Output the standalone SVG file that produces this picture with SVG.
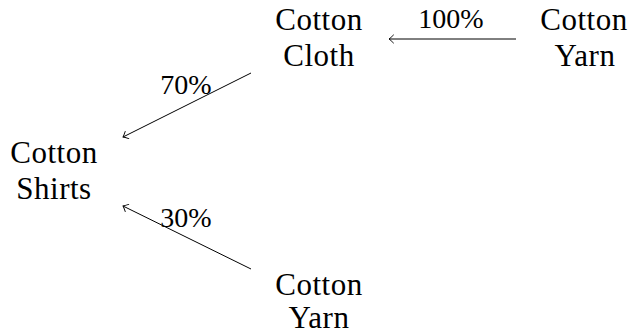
<svg xmlns="http://www.w3.org/2000/svg" width="629" height="332" viewBox="0 0 629 332">
  <defs>
    <style>
      .lbl { font-family: "Liberation Serif", serif; font-size: 31px; letter-spacing: 0.5px; fill: #000; text-anchor: middle; }
      .pct { font-family: "Liberation Serif", serif; font-size: 28px; fill: #000; text-anchor: middle; }
      .edge { stroke: #000; stroke-width: 1; fill: none; marker-end: url(#to); }
    </style>
    <!-- open "to"-style arrowhead -->
    <marker id="to" viewBox="-6 -5 8 10" markerWidth="8" markerHeight="10" refX="0" refY="0" orient="auto" markerUnits="userSpaceOnUse">
      <path d="M -4.5,-4 Q -1.5,-1 0,0 Q -1.5,1 -4.5,4" fill="none" stroke="#000" stroke-width="0.9" stroke-linecap="round"/>
    </marker>
  </defs>

  <g id="connectors">
    <line class="edge" x1="516" y1="39" x2="389" y2="39"/>
    <line class="edge" x1="251" y1="73" x2="123" y2="137"/>
    <line class="edge" x1="251" y1="269" x2="123" y2="206"/>
    <text class="pct" x="451" y="28">100%</text>
    <text class="pct" x="186" y="94">70%</text>
    <text class="pct" x="186" y="227">30%</text>
  </g>

  <g id="cotton-cloth">
    <text class="lbl" x="319" y="30">Cotton</text>
    <text class="lbl" x="319" y="66">Cloth</text>
  </g>

  <g id="cotton-yarn-top">
    <text class="lbl" x="584" y="30">Cotton</text>
    <text class="lbl" x="585" y="66">Yarn</text>
  </g>

  <g id="cotton-shirts">
    <text class="lbl" x="54" y="163">Cotton</text>
    <text class="lbl" x="54" y="199">Shirts</text>
  </g>

  <g id="cotton-yarn-bottom">
    <text class="lbl" x="319" y="295">Cotton</text>
    <text class="lbl" x="319" y="328">Yarn</text>
  </g>
</svg>
